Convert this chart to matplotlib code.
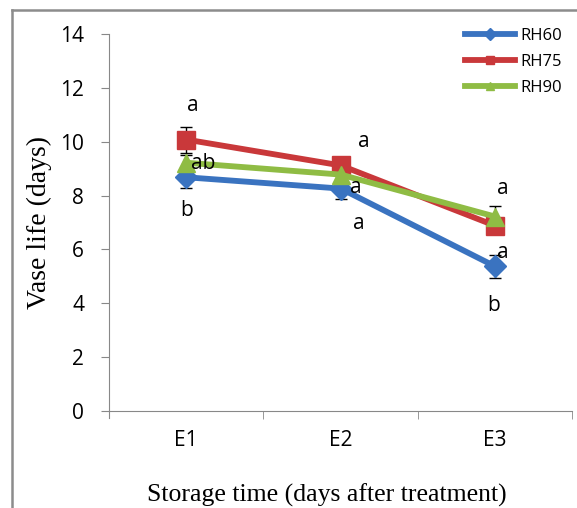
import matplotlib.pyplot as plt
from matplotlib.lines import Line2D
import numpy as np

categories = ['E1', 'E2', 'E3']
series_names = ['RH60', 'RH75', 'RH90']
rh60 = [8.68, 8.26, 5.37]
rh75 = [10.08, 9.12, 6.88]
rh90 = [9.22, 8.78, 7.22]
rh60_err = [0.38, 0.38, 0.42]
rh75_err = [0.48, 0.25, 0.25]
rh90_err = [0.30, 0.25, 0.38]

# significance letters: (category position offset, y value, text)
letter_x = [0.04, 0.11, 0.0, 1.15, 1.10, 1.12, 2.05, 2.05, 1.99]
letter_y = [11.35, 9.2, 7.45, 10.0, 8.3, 6.95, 8.25, 5.9, 3.9]
letter_txt = ['a', 'ab', 'b', 'a', 'a', 'a', 'a', 'a', 'b']

colors = ['#3a73c0', '#c9383a', '#8fbc44']
markers = ['D', 's', '^']
msizes = [11, 13, 13]

fig = plt.figure(figsize=(5.77, 5.08), dpi=100)
ax = fig.add_axes([0.189, 0.191, 0.803, 0.742])

x = np.arange(len(categories))
for vals, err, c, m, ms, name in zip([rh60, rh75, rh90], [rh60_err, rh75_err, rh90_err],
                                     colors, markers, msizes, series_names):
    ax.errorbar(x, vals, yerr=err, color=c, marker=m, markersize=ms, lw=4.2,
                ecolor='black', elinewidth=1, capsize=4, capthick=1, label=name,
                zorder=3)

for lx, ly, t in zip(letter_x, letter_y, letter_txt):
    ax.text(lx, ly, t, fontsize=15, family='Open Sans', ha='center', va='center', zorder=5)

ax.set_xlim(-0.5, 2.5)
ax.set_ylim(0, 14)
ax.set_yticks(np.arange(0, 15, 2))
ax.set_xticks(x)
ax.set_xticklabels(categories)
ax.set_xticks([0.5, 1.5, 2.5], minor=True)
ax.tick_params(axis='x', which='major', length=0, pad=14)
ax.tick_params(axis='x', which='minor', length=6, color='#888888')
ax.tick_params(axis='y', length=6, color='#888888', pad=12)
for lab in ax.get_xticklabels() + ax.get_yticklabels():
    lab.set_family('Open Sans')
    lab.set_fontsize(15)
ax.spines['top'].set_visible(False)
ax.spines['right'].set_visible(False)
ax.spines['left'].set_color('#888888')
ax.spines['bottom'].set_color('#888888')
ax.spines['left'].set_bounds(-0.25, 14)
ax.set_ylabel('Vase life (days)', family='Liberation Serif', fontsize=20, labelpad=6)
ax.set_xlabel('Storage time (days after treatment)', family='Liberation Serif',
              fontsize=18.5)
ax.xaxis.set_label_coords(0.469, -0.193)

handles = [Line2D([], [], color=c, marker=m, markersize=6, lw=4.2) for c, m in zip(colors, markers)]
fig.legend(handles, series_names, loc='upper right', bbox_to_anchor=(1.0, 0.975),
           frameon=False, prop={'family': 'Open Sans', 'size': 12}, handlelength=3.0,
           handletextpad=0.3, labelspacing=0.6)

# outer chart-area frame (cropped on right and bottom)
fig.add_artist(Line2D([0.021, 0.021], [0.0, 0.98], color='#8c8c8c', lw=1.8))
fig.add_artist(Line2D([0.021, 1.0], [0.98, 0.98], color='#8c8c8c', lw=1.8))

fig.savefig('out.png')
